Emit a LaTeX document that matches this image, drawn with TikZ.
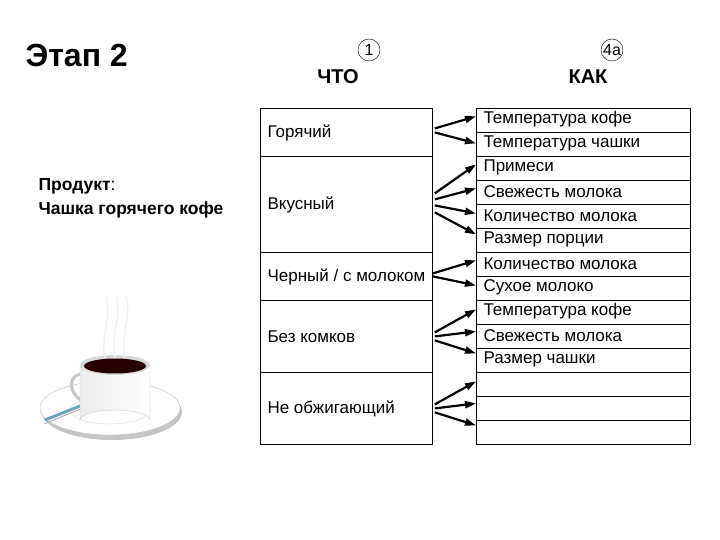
\documentclass[tikz,border=0pt]{standalone}
\usepackage{fontspec}
\setmainfont{Liberation Sans}
\usetikzlibrary{calc,arrows.meta}
\begin{document}
\begin{tikzpicture}[x=1pt,y=-1pt,
 lbox/.style={draw,line width=0.8pt,minimum width=172pt,anchor=north west,inner sep=0pt},
 rbox/.style={draw,line width=0.8pt,minimum width=214pt,minimum height=24pt,anchor=north west,inner sep=0pt},
 txt/.style={font=\fontsize{17}{19}\selectfont},
 arr/.style={-{Triangle[length=11pt,width=7pt]},line width=2.2pt},
 num/.style={draw,circle,inner sep=0pt,minimum size=22pt,font=\fontsize{16}{18}\selectfont}]
\useasboundingbox (0,0) rectangle (720,540);
% headers
\node[font=\bfseries\fontsize{32}{34}\selectfont,anchor=west] (stage) at (22,55) {Этап 2};
\node[font=\bfseries\fontsize{20}{22}\selectfont] (what) at (338,77) {ЧТО};
\node[num] (n1) at (369,50) {1};
\node[font=\bfseries\fontsize{20}{22}\selectfont] (how) at (588,77) {КАК};
\node[num] (n4) at (612,50) {4a};
\node[font=\fontsize{17.5}{24}\selectfont,align=left,anchor=west] (prod) at (35,198) {\textbf{Продукт}:\\ \textbf{Чашка горячего кофе}};
% left boxes
\node[lbox,minimum height=48pt] (L1) at (260,108) {};
\node[lbox,minimum height=96pt] (L2) at (260,156) {};
\node[lbox,minimum height=48pt] (L3) at (260,252) {};
\node[lbox,minimum height=72pt] (L4) at (260,300) {};
\node[lbox,minimum height=72pt] (L5) at (260,372) {};
\node[txt,anchor=west] (t1) at (264,133) {Горячий};
\node[txt,anchor=west] (t2) at (264,205) {Вкусный};
\node[txt,anchor=west] (t3) at (264,277) {Черный / с молоком};
\node[txt,anchor=west] (t4) at (264,337) {Без комков};
\node[txt,anchor=west] (t5) at (264,409) {Не обжигающий};
% right boxes
\foreach \i/\t in {1/Температура кофе,2/Температура чашки,3/Примеси,4/Свежесть молока,5/Количество молока,6/Размер порции,7/Количество молока,8/Сухое молоко,9/Температура кофе,10/Свежесть молока,11/Размер чашки,12/,13/,14/}{
 \node[rbox] (R\i) at (476,{108+24*(\i-1)}) {};
 \node[txt,anchor=west] at ($(R\i.west)+(4,-1)$) {\t};
}
% arrows
\draw[arr] ($(L1.east)+(2,-4)$) -- ($(R1.west)+(0,-4)$);
\draw[arr] ($(L1.east)+(2,0)$) -- ($(R2.west)+(0,-1)$);
\draw[arr] ($(L2.east)+(2,-11)$) -- ($(R3.west)+(0,-4)$);
\draw[arr] ($(L2.east)+(2,-5)$) -- ($(R4.west)+(0,-4)$);
\draw[arr] ($(L2.east)+(2,1)$) -- ($(R5.west)+(0,-3)$);
\draw[arr] ($(L2.east)+(2,8)$) -- ($(R6.west)+(0,-6)$);
\draw[arr] ($(L3.east)+(0,-3)$) -- ($(R7.west)+(0,-4)$);
\draw[arr] ($(L3.east)+(0,0)$) -- ($(R8.west)+(0,-3)$);
\draw[arr] ($(L4.east)+(2,-4)$) -- ($(R9.west)+(0,-3)$);
\draw[arr] ($(L4.east)+(2,0)$) -- ($(R10.west)+(0,-5)$);
\draw[arr] ($(L4.east)+(2,4)$) -- ($(R11.west)+(0,-7)$);
\draw[arr] ($(L5.east)+(2,-4)$) -- ($(R12.west)+(0,-3)$);
\draw[arr] ($(L5.east)+(2,0)$) -- ($(R13.west)+(0,-5)$);
\draw[arr] ($(L5.east)+(2,4)$) -- ($(R14.west)+(0,-7)$);
% cup
\fill[gray!45] (112,412) ellipse (70 and 28);
\fill[white] (110,408) ellipse (70 and 27);
\draw[gray!50] (110,408) ellipse (70 and 27);
\draw[gray!30] (110,410) ellipse (40 and 14);
\draw[cyan!40!gray,line width=3pt] (45,420) -- (95,400);
\draw[gray!60,line width=1pt] (44,424) -- (95,403);
\draw[gray!45,line width=3pt] (85,375) .. controls (68,370) and (66,395) .. (85,402);
\shade[left color=gray!15,right color=white] (80,365) -- (80,420) arc[start angle=180,end angle=360,x radius=35,y radius=10] -- (150,365) -- cycle;
\draw[gray!40] (80,365) -- (80,420) arc[start angle=180,end angle=360,x radius=35,y radius=10] -- (150,365);
\fill[gray!30] (115,365) ellipse (35 and 10);
\fill[black!85!red] (115,366) ellipse (31 and 7.5);
\foreach \dx in {0,10,20}
 \draw[gray!12,line width=1.5pt] (105+\dx,358) .. controls (100+\dx,335) and (112+\dx,320) .. (106+\dx,295);
\end{tikzpicture}
\end{document}
